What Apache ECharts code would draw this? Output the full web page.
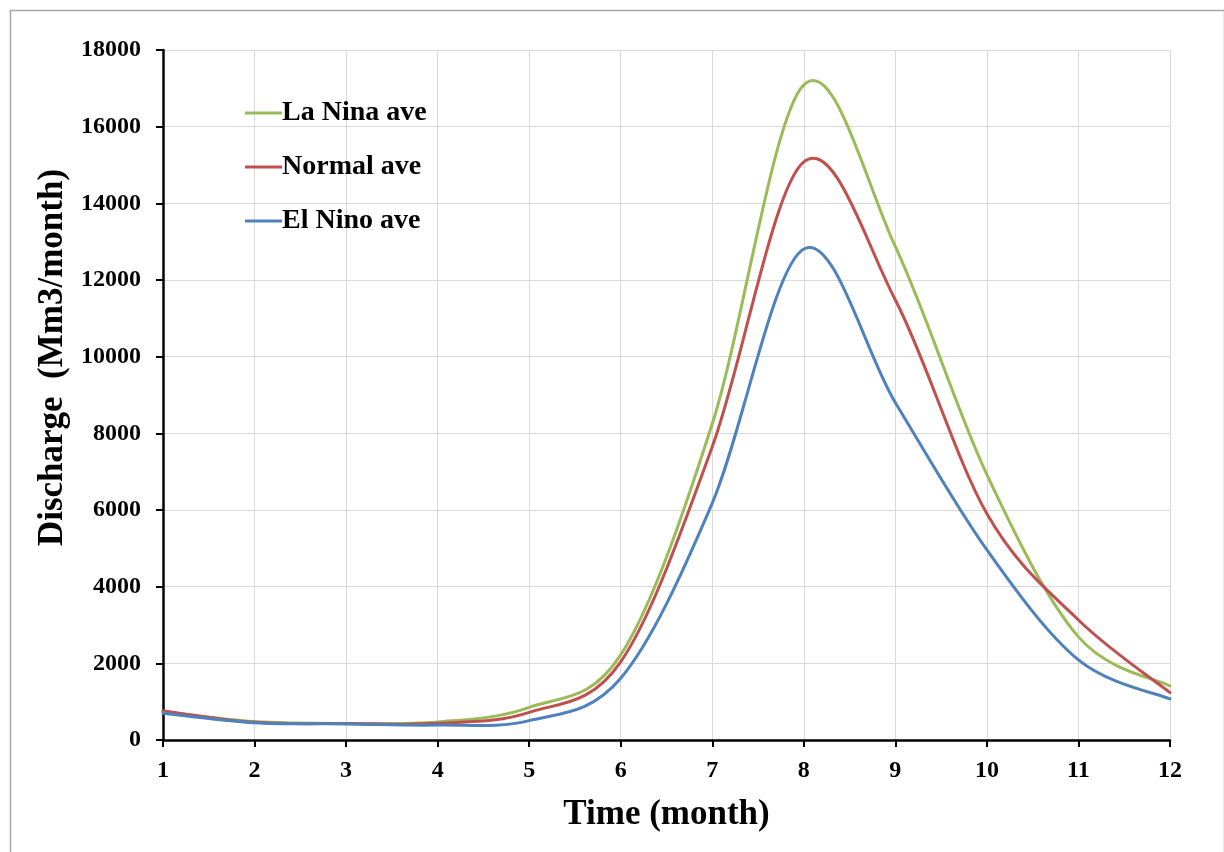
<!DOCTYPE html>
<html>
<head>
<meta charset="utf-8">
<script src="https://cdn.jsdelivr.net/npm/echarts@6/dist/echarts.min.js"></script>
<style>html,body{margin:0;padding:0;background:#fff}#c{width:1224px;height:852px}</style>
</head>
<body>
<div id="c"></div>
<script>
const months = [1, 2, 3, 4, 5, 6, 7, 8, 9, 10, 11, 12];
const laNina = [740, 480, 430, 470, 850, 2220, 8250, 17090, 12870, 6920, 2690, 1410];
const normal = [757, 460, 430, 435, 720, 2040, 7650, 15080, 11480, 5900, 3130, 1235];
const elNino = [700, 450, 420, 390, 505, 1610, 6180, 12810, 8800, 4960, 2090, 1070];
const seriesNames = ['La Nina ave', 'Normal ave', 'El Nino ave'];
const colors = ['#9BBB59', '#C0504D', '#4F81BD'];

const pair = arr => months.map((m, i) => [m, arr[i]]);
const font = '"Liberation Serif", "Times New Roman", serif';

// Smoothed line (Excel-style cardinal Bezier) drawn through the chart's own axes via api.coord
function smoothSeries(name, arr, color) {
  return {
    name: name,
    type: 'custom',
    data: pair(arr),
    color: color,
    itemStyle: {color: color},
    encode: {x: 0, y: 1},
    silent: true,
    renderItem: function (params, api) {
      if (params.dataIndex !== 0) return null;
      const pts = months.map((m, i) => api.coord([m, arr[i]]));
      const n = pts.length;
      let d = 'M' + pts[0][0] + ' ' + pts[0][1];
      for (let i = 0; i < n - 1; i++) {
        const p0 = pts[Math.max(i - 1, 0)], p1 = pts[i], p2 = pts[i + 1], p3 = pts[Math.min(i + 2, n - 1)];
        const c1x = p1[0] + (p2[0] - p0[0]) / 6, c1y = p1[1] + (p2[1] - p0[1]) / 6;
        const c2x = p2[0] - (p3[0] - p1[0]) / 6, c2y = p2[1] - (p3[1] - p1[1]) / 6;
        d += ' C' + c1x + ' ' + c1y + ' ' + c2x + ' ' + c2y + ' ' + p2[0] + ' ' + p2[1];
      }
      return {
        type: 'path',
        shape: {pathData: d},
        style: {fill: 'none', stroke: color, lineWidth: 3, lineJoin: 'round', lineCap: 'round'}
      };
    }
  };
}

const chart = echarts.init(document.getElementById('c'), null, {renderer: 'canvas'});
chart.setOption({
  animation: false,
  backgroundColor: '#fff',
  grid: {left: 163, right: 54, top: 50, bottom: 112, containLabel: false},
  legend: {
    data: seriesNames,
    orient: 'vertical',
    left: 240, top: 94,
    itemWidth: 37, itemHeight: 3, itemGap: 26,
    icon: 'rect',
    selectedMode: false,
    textStyle: {fontFamily: font, fontWeight: 'bold', fontSize: 28, color: '#000', padding: [0, 0, 0, -5]}
  },
  xAxis: {
    type: 'value', min: 1, max: 12, interval: 1,
    name: 'Time (month)', nameLocation: 'middle', nameGap: 57,
    nameTextStyle: {fontFamily: font, fontWeight: 'bold', fontSize: 35, color: '#000'},
    axisLine: {lineStyle: {color: '#000', width: 2.5}},
    axisTick: {show: true, length: 7, lineStyle: {color: '#000', width: 2}},
    axisLabel: {fontFamily: font, fontWeight: 'bold', fontSize: 24, color: '#000', margin: 19},
    splitLine: {show: true, lineStyle: {color: '#d9d9d9', width: 1}}
  },
  yAxis: {
    type: 'value', min: 0, max: 18000, interval: 2000,
    name: 'Discharge  (Mm3/month)', nameLocation: 'middle', nameGap: 84,
    nameTextStyle: {fontFamily: font, fontWeight: 'bold', fontSize: 35, color: '#000', padding: [0, 0, 0, 75]},
    axisLine: {show: true, lineStyle: {color: '#000', width: 2.5}},
    axisTick: {show: true, length: 7, lineStyle: {color: '#000', width: 2}},
    axisLabel: {fontFamily: font, fontWeight: 'bold', fontSize: 24, color: '#000', margin: 22,
      formatter: v => String(v)},
    splitLine: {show: true, lineStyle: {color: '#d9d9d9', width: 1}}
  },
  series: [
    smoothSeries(seriesNames[0], laNina, colors[0]),
    smoothSeries(seriesNames[1], normal, colors[1]),
    smoothSeries(seriesNames[2], elNino, colors[2])
  ],
  graphic: [{
    type: 'rect', left: 8, top: 8, silent: true, z: -1,
    shape: {width: 1214, height: 870},
    style: {fill: 'none', stroke: '#a6a6a6', lineWidth: 1.5}
  }]
});
</script>
</body>
</html>
